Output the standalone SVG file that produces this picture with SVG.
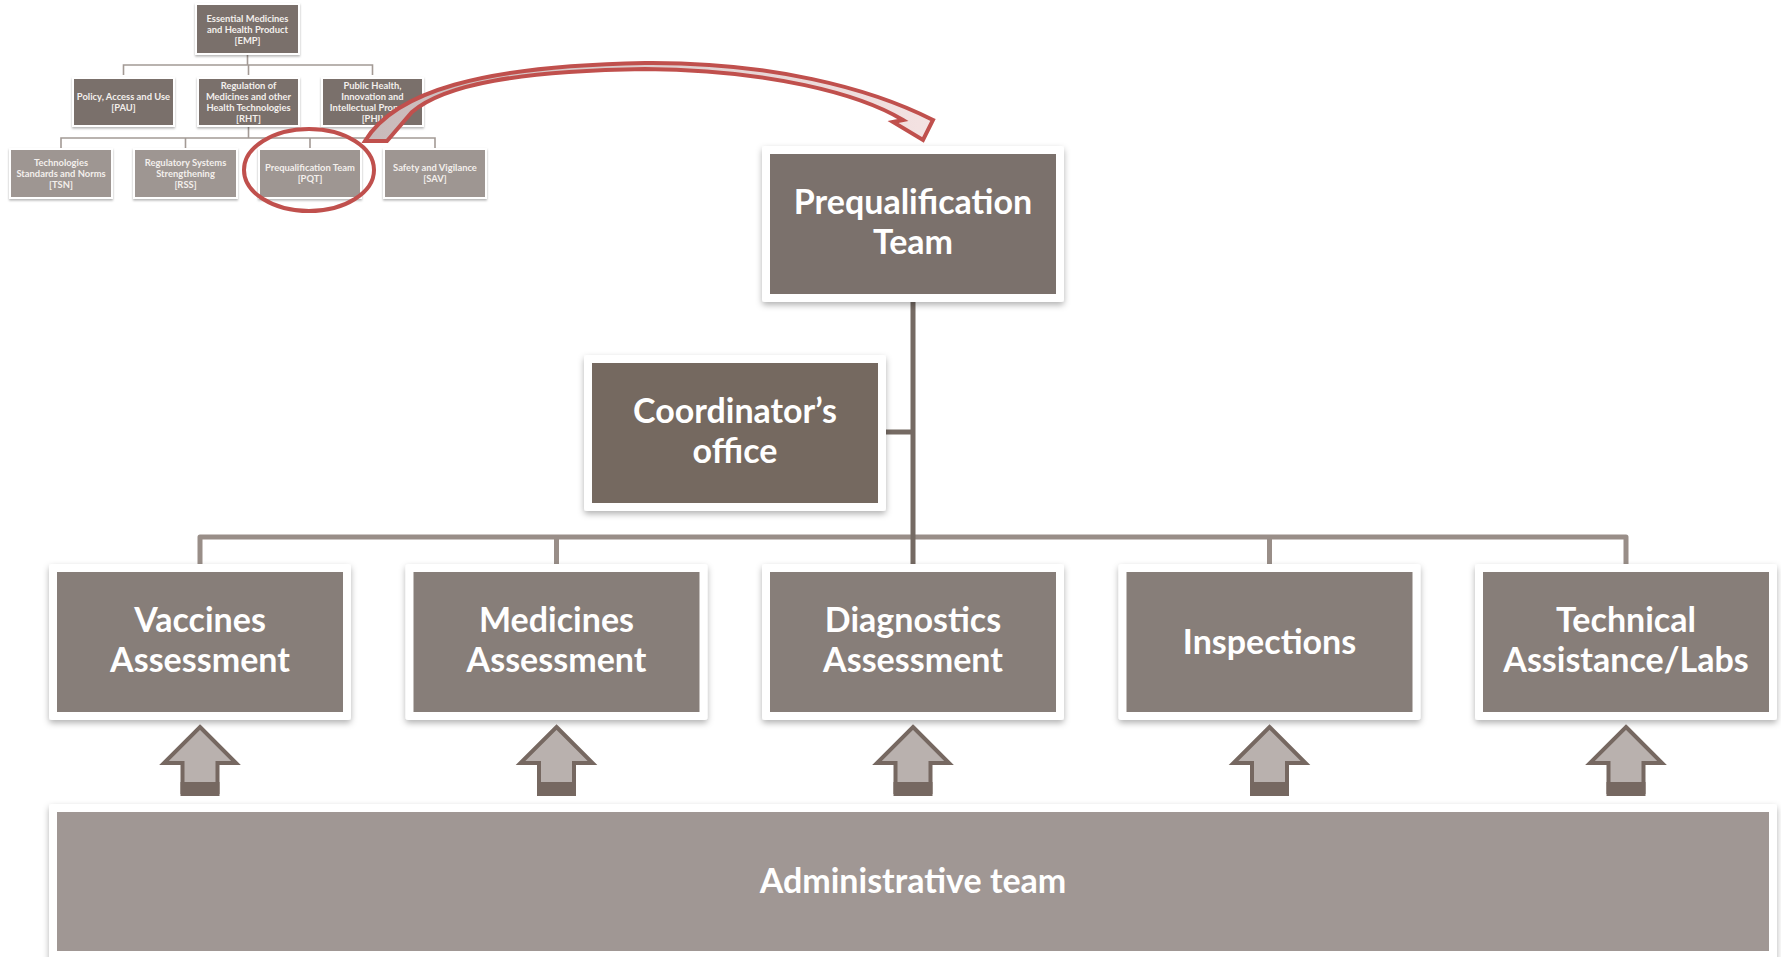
<svg xmlns="http://www.w3.org/2000/svg" width="1781" height="957" viewBox="0 0 1781 957">
<defs>
<filter id="sh" x="-10%" y="-10%" width="120%" height="130%">
<feDropShadow dx="0" dy="3" stdDeviation="3" flood-color="#000" flood-opacity="0.3"/>
</filter>
<filter id="shs" x="-10%" y="-10%" width="120%" height="130%">
<feDropShadow dx="0" dy="1.5" stdDeviation="1.2" flood-color="#000" flood-opacity="0.3"/>
</filter>
<linearGradient id="rg" x1="0" y1="0" x2="1" y2="0">
<stop offset="0" stop-color="#c8baba"/>
<stop offset="1" stop-color="#f4e2e2"/>
</linearGradient>
<g id="up">
<path d="M0,0 L36,36 L17.5,36 L17.5,67 L-17.5,67 L-17.5,36 L-36,36 Z" fill="#b9b1ae" stroke="#766861" stroke-width="4" stroke-linejoin="miter"/>
<rect x="-19.5" y="55" width="39" height="12" fill="#766861"/>
</g>
</defs>
<style>
.frame{fill:#fff;}
.big{font-family:Lato,"Open Sans",sans-serif;font-weight:bold;font-size:34px;fill:#fff;text-anchor:middle;}
.sm{font-family:Lato,"Open Sans",sans-serif;font-weight:bold;font-size:9.4px;fill:#f3efec;text-anchor:middle;}
.sline{stroke:#a39a95;stroke-width:1.6;fill:none;}
.dk{fill:#7a706b;}
.lt{fill:#9e9692;}
</style>
<rect width="1781" height="957" fill="#fff"/>

<!-- small org chart connectors -->
<g id="small-connectors">
<path class="sline" d="M247.5,55 V65 M123.5,75 V65 H372.5 V75 M248.5,65 V75"/>
<path class="sline" d="M248.5,127 V138 M61,148 V138 H435 V148 M185.5,138 V148 M310,138 V148"/>
</g>

<g id="s-emp">
<rect class="frame" x="195" y="3" width="105" height="52" filter="url(#shs)"/>
<rect class="dk" x="197" y="5" width="101" height="48"/>
<text class="sm" x="247.5" y="22">Essential Medicines</text>
<text class="sm" x="247.5" y="33">and Health Product</text>
<text class="sm" x="247.5" y="44">[EMP]</text>
</g>
<g id="s-pau">
<rect class="frame" x="72" y="77" width="103" height="50" filter="url(#shs)"/>
<rect class="dk" x="74" y="79" width="99" height="46"/>
<text class="sm" x="123.5" y="100">Policy, Access and Use</text>
<text class="sm" x="123.5" y="111">[PAU]</text>
</g>
<g id="s-rht">
<rect class="frame" x="197" y="77" width="103" height="50" filter="url(#shs)"/>
<rect class="dk" x="199" y="79" width="99" height="46"/>
<text class="sm" x="248.5" y="88.5">Regulation of</text>
<text class="sm" x="248.5" y="99.5">Medicines and other</text>
<text class="sm" x="248.5" y="110.5">Health Technologies</text>
<text class="sm" x="248.5" y="121.5">[RHT]</text>
</g>
<g id="s-phi">
<rect class="frame" x="321" y="77" width="103" height="50" filter="url(#shs)"/>
<rect class="dk" x="323" y="79" width="99" height="46"/>
<text class="sm" x="372.5" y="88.5">Public Health,</text>
<text class="sm" x="372.5" y="99.5">Innovation and</text>
<text class="sm" x="372.5" y="110.5">Intellectual Property</text>
<text class="sm" x="372.5" y="121.5">[PHI]</text>
</g>
<g id="s-tsn">
<rect class="frame" x="9" y="148" width="104" height="51" filter="url(#shs)"/>
<rect class="lt" x="11" y="150" width="100" height="47"/>
<text class="sm" x="61" y="166">Technologies</text>
<text class="sm" x="61" y="177">Standards and Norms</text>
<text class="sm" x="61" y="188">[TSN]</text>
</g>
<g id="s-rss">
<rect class="frame" x="133" y="148" width="105" height="51" filter="url(#shs)"/>
<rect class="lt" x="135" y="150" width="101" height="47"/>
<text class="sm" x="185.5" y="166">Regulatory Systems</text>
<text class="sm" x="185.5" y="177">Strengthening</text>
<text class="sm" x="185.5" y="188">[RSS]</text>
</g>
<g id="s-pqt">
<rect class="frame" x="258" y="148" width="104" height="51" filter="url(#shs)"/>
<rect class="lt" x="260" y="150" width="100" height="47"/>
<text class="sm" x="310" y="171">Prequalification Team</text>
<text class="sm" x="310" y="182">[PQT]</text>
</g>
<g id="s-sav">
<rect class="frame" x="383" y="148" width="104" height="51" filter="url(#shs)"/>
<rect class="lt" x="385" y="150" width="100" height="47"/>
<text class="sm" x="435" y="171">Safety and Vigilance</text>
<text class="sm" x="435" y="182">[SAV]</text>
</g>

<!-- highlight ellipse and curved arrow -->
<g id="highlight">
<ellipse cx="309" cy="170" rx="65" ry="41" fill="none" stroke="#c0504d" stroke-width="4"/>
<path d="M365,141 C395,92 480,66 645,63 C770,62 870,88 933,120 L923,140 L893,122 L903,120 C860,94 770,70 645,69 C520,71 445,84 412,112 L387,141 Z" fill="url(#rg)" stroke="#c0504d" stroke-width="4" stroke-linejoin="miter"/>
</g>

<!-- main connectors -->
<g id="connectors">
<path d="M200,564 V537 H1626 V564 M556.5,537 V564 M1269.5,537 V564" fill="none" stroke="#998e88" stroke-width="5" stroke-linejoin="round"/>
<path d="M913,301 V564 M886,432 H913" fill="none" stroke="#756a63" stroke-width="5"/>
</g>

<g id="pqt">
<rect class="frame" x="762" y="146" width="302" height="156" rx="3" filter="url(#sh)"/>
<rect x="770" y="154" width="286" height="140" fill="#7b716c"/>
<text class="big" x="913" y="214">Prequalification</text>
<text class="big" x="913" y="254">Team</text>
</g>
<g id="coordinator">
<rect class="frame" x="584" y="355" width="302" height="156" rx="3" filter="url(#sh)"/>
<rect x="592" y="363" width="286" height="140" fill="#756960"/>
<text class="big" x="735" y="423">Coordinator’s</text>
<text class="big" x="735" y="463">office</text>
</g>
<g id="vaccines">
<rect class="frame" x="49" y="564" width="302" height="156" rx="3" filter="url(#sh)"/>
<rect x="57" y="572" width="286" height="140" fill="#877e79"/>
<text class="big" x="200" y="632">Vaccines</text>
<text class="big" x="200" y="672">Assessment</text>
</g>
<g id="medicines">
<rect class="frame" x="405.5" y="564" width="302" height="156" rx="3" filter="url(#sh)"/>
<rect x="413.5" y="572" width="286" height="140" fill="#877e79"/>
<text class="big" x="556.5" y="632">Medicines</text>
<text class="big" x="556.5" y="672">Assessment</text>
</g>
<g id="diagnostics">
<rect class="frame" x="762" y="564" width="302" height="156" rx="3" filter="url(#sh)"/>
<rect x="770" y="572" width="286" height="140" fill="#877e79"/>
<text class="big" x="913" y="632">Diagnostics</text>
<text class="big" x="913" y="672">Assessment</text>
</g>
<g id="inspections">
<rect class="frame" x="1118.5" y="564" width="302" height="156" rx="3" filter="url(#sh)"/>
<rect x="1126.5" y="572" width="286" height="140" fill="#877e79"/>
<text class="big" x="1269.5" y="654">Inspections</text>
</g>
<g id="technical">
<rect class="frame" x="1475" y="564" width="302" height="156" rx="3" filter="url(#sh)"/>
<rect x="1483" y="572" width="286" height="140" fill="#877e79"/>
<text class="big" x="1626" y="632">Technical</text>
<text class="big" x="1626" y="672">Assistance/Labs</text>
</g>

<g id="up-arrows">
<use href="#up" x="200" y="727"/>
<use href="#up" x="556.5" y="727"/>
<use href="#up" x="913" y="727"/>
<use href="#up" x="1269.5" y="727"/>
<use href="#up" x="1626" y="727"/>
</g>

<g id="admin">
<rect class="frame" x="49" y="804" width="1728" height="160" rx="3" filter="url(#sh)"/>
<rect x="57" y="812" width="1712" height="139" fill="#a09794"/>
<text class="big" x="913" y="893">Administrative team</text>
</g>
</svg>
